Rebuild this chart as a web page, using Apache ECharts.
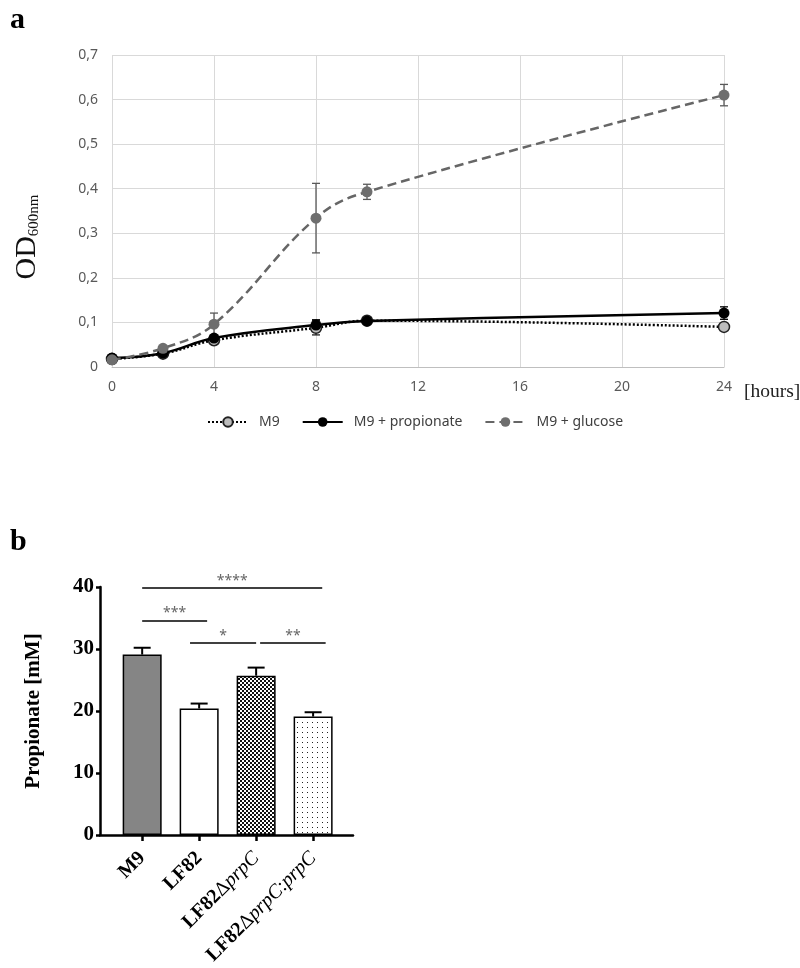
<!DOCTYPE html>
<html><head><meta charset="utf-8">
<script src="https://cdn.jsdelivr.net/npm/echarts@6/dist/echarts.min.js"></script>
<style>html,body{margin:0;padding:0;background:#fff}#c{width:800px;height:968px}</style>
</head><body><div id="c"></div>
<script>
// ---------- Panel a data ----------
const hours = [0, 2, 4, 8, 10, 24];
const m9 = [0.018, 0.030, 0.060, 0.088, 0.104, 0.090];
const m9Err = [0.004, 0.004, 0.008, 0.016, 0.005, 0.006];
const propionateOD = [0.020, 0.031, 0.065, 0.094, 0.103, 0.121];
const propionateODErr = [0.003, 0.004, 0.006, 0.012, 0.005, 0.014];
const glucoseOD = [0.016, 0.042, 0.096, 0.334, 0.393, 0.610];
const glucoseODErr = [0.003, 0.006, 0.025, 0.078, 0.017, 0.024];
const seriesNamesA = ['M9', 'M9 + propionate', 'M9 + glucose'];

// ---------- Panel b data ----------
const strains = ['M9', 'LF82', 'LF82ΔprpC', 'LF82ΔprpC:prpC'];
const propionateMM = [29.1, 20.4, 25.7, 19.1];
const propionateMMErr = [1.1, 0.8, 1.3, 0.7];
// significance brackets: [x start, x end, y level, label]
const sigBrackets = [
  [0, 3.16, 39.8, '****'],
  [0, 1.14, 34.6, '***'],
  [0.84, 2.0, 31.0, '*'],
  [2.07, 3.22, 31.0, '**']
];

// ---------- patterns ----------
function makeChecker() {
  const c = document.createElement('canvas'); c.width = 4; c.height = 4;
  const g = c.getContext('2d');
  g.fillStyle = '#fff'; g.fillRect(0, 0, 4, 4);
  g.fillStyle = '#111'; g.fillRect(0, 0, 2, 2); g.fillRect(2, 2, 2, 2);
  return c;
}
function makeDots() {
  const c = document.createElement('canvas'); c.width = 5; c.height = 5;
  const g = c.getContext('2d');
  g.fillStyle = '#fff'; g.fillRect(0, 0, 5, 5);
  g.fillStyle = '#222'; g.fillRect(2, 2, 1, 1);
  return c;
}
const barFills = ['#858585', '#ffffff', { image: makeChecker(), repeat: 'repeat' }, { image: makeDots(), repeat: 'repeat' }];

function errRender(capW, color, w, lowerCap) {
  return function (params, api) {
    const x = api.value(0), lo = api.value(1), hi = api.value(2);
    const a = api.coord([x, lo]), b = api.coord([x, hi]);
    const style = { stroke: color, lineWidth: w, fill: null };
    const ch = [
      { type: 'line', shape: { x1: a[0], y1: a[1], x2: b[0], y2: b[1] }, style },
      { type: 'line', shape: { x1: b[0] - capW / 2, y1: b[1], x2: b[0] + capW / 2, y2: b[1] }, style }
    ];
    if (lowerCap) ch.push({ type: 'line', shape: { x1: a[0] - capW / 2, y1: a[1], x2: a[0] + capW / 2, y2: a[1] }, style });
    return { type: 'group', children: ch };
  };
}
const pairs = (ys) => hours.map((h, i) => [h, ys[i]]);
const errPairs = (ys, es) => hours.map((h, i) => [h, ys[i] - es[i], ys[i] + es[i]]);

const sansFont = 'Noto Sans';
const serif = 'Liberation Serif';

function stylizeLabel(s) {
  const idx = s.indexOf('Δ');
  if (idx < 0) return '{b|' + s + '}';
  let out = '{b|' + s.slice(0, idx) + '}{d|Δ}';
  const rest = s.slice(idx + 1).split(':');
  out += rest.map(r => '{i|' + r + '}').join('{d|:}');
  return out;
}

const chart = echarts.init(document.getElementById('c'), null, { renderer: 'canvas' });
chart.setOption({
  animation: false,
  backgroundColor: '#fff',
  title: [
    { text: 'a', left: 5, top: 0, textStyle: { fontFamily: serif, fontWeight: 'bold', fontSize: 30, color: '#000' } },
    { text: 'b', left: 5, top: 522, textStyle: { fontFamily: serif, fontWeight: 'bold', fontSize: 30, color: '#000' } },
    { text: '[hours]', left: 739, top: 377, textStyle: { fontFamily: serif, fontWeight: 'normal', fontSize: 19.5, color: '#222' } }
  ],
  legend: {
    data: seriesNamesA,
    left: 202, top: 410,
    itemWidth: 40, itemHeight: 12, itemGap: 22,
    textStyle: { fontFamily: sansFont, fontSize: 14, color: '#404040', padding: [0, 0, 0, 6] }
  },
  grid: [
    { left: 112, top: 55, width: 612, height: 312 },
    { left: 100, top: 587, width: 253, height: 248 }
  ],
  xAxis: [
    {
      gridIndex: 0, type: 'value', min: 0, max: 24, interval: 4,
      axisLine: { show: true, lineStyle: { color: '#bfbfbf', width: 1 } },
      axisTick: { show: false },
      axisLabel: { color: '#595959', fontFamily: sansFont, fontSize: 14, margin: 13 },
      splitLine: { show: true, lineStyle: { color: '#d9d9d9', width: 1 } }
    },
    {
      gridIndex: 1, type: 'value', min: -0.74, max: 3.7,
      axisLine: { show: true, onZero: false, lineStyle: { color: '#000', width: 2.5 } },
      axisTick: { show: true, customValues: [0, 1, 2, 3], length: 6, lineStyle: { color: '#000', width: 2.5 } },
      axisLabel: {
        customValues: [0, 1, 2, 3], rotate: 45, margin: 20,
        formatter: (v) => stylizeLabel(strains[Math.round(v)] || ''),
        rich: {
          b: { fontFamily: serif, fontWeight: 'bold', fontSize: 20, color: '#000' },
          d: { fontFamily: serif, fontWeight: 'normal', fontSize: 20, color: '#000' },
          i: { fontFamily: serif, fontWeight: 'normal', fontStyle: 'italic', fontSize: 20, color: '#000' }
        }
      },
      splitLine: { show: false }
    }
  ],
  yAxis: [
    {
      gridIndex: 0, type: 'value', min: 0, max: 0.7, interval: 0.1,
      axisLine: { show: false }, axisTick: { show: false },
      axisLabel: { color: '#595959', fontFamily: sansFont, fontSize: 14, margin: 14,
        formatter: (v) => (Math.round(v * 10) / 10).toString().replace('.', ',') },
      splitLine: { show: true, lineStyle: { color: '#d9d9d9', width: 1 } },
      name: '{a|OD}{s|600nm}', nameLocation: 'middle', nameRotate: 90, nameGap: 70,
      nameTextStyle: {
        padding: [0, 52, 0, 0],
        rich: {
          a: { fontFamily: serif, fontSize: 30, color: '#111', verticalAlign: 'bottom', lineHeight: 30 },
          s: { fontFamily: serif, fontSize: 15, color: '#111', verticalAlign: 'bottom', lineHeight: 22 }
        }
      }
    },
    {
      gridIndex: 1, type: 'value', min: 0, max: 40, interval: 10,
      axisLine: { show: true, onZero: false, lineStyle: { color: '#000', width: 2.5 } },
      axisTick: { show: true, length: 4, lineStyle: { color: '#000', width: 2.5 } },
      axisLabel: { color: '#000', fontFamily: serif, fontWeight: 'bold', fontSize: 21, margin: 6 },
      splitLine: { show: false },
      name: 'Propionate [mM]', nameLocation: 'middle', nameRotate: 90, nameGap: 56,
      nameTextStyle: { fontFamily: serif, fontWeight: 'bold', fontSize: 21, color: '#000' }
    }
  ],
  series: [
    { type: 'custom', name: 'errM9', xAxisIndex: 0, yAxisIndex: 0, z: 3,
      renderItem: errRender(8, '#222', 1.3, true), data: errPairs(m9, m9Err), encode: { x: 0, y: [1, 2] } },
    { type: 'custom', name: 'errProp', xAxisIndex: 0, yAxisIndex: 0, z: 3,
      renderItem: errRender(8, '#000', 1.3, true), data: errPairs(propionateOD, propionateODErr), encode: { x: 0, y: [1, 2] } },
    { type: 'custom', name: 'errGlc', xAxisIndex: 0, yAxisIndex: 0, z: 3,
      renderItem: errRender(8, '#595959', 1.3, true), data: errPairs(glucoseOD, glucoseODErr), encode: { x: 0, y: [1, 2] } },
    {
      name: seriesNamesA[0], type: 'line', xAxisIndex: 0, yAxisIndex: 0, z: 4,
      data: pairs(m9), smooth: 0.4,
      lineStyle: { color: '#000', width: 2.5, type: [2, 2] },
      symbol: 'circle', symbolSize: 11,
      itemStyle: { color: '#bdbdbd', borderColor: '#222', borderWidth: 1.5 }
    },
    {
      name: seriesNamesA[1], type: 'line', xAxisIndex: 0, yAxisIndex: 0, z: 5,
      data: pairs(propionateOD), smooth: 0.4,
      lineStyle: { color: '#000', width: 2.5 },
      symbol: 'circle', symbolSize: 11,
      itemStyle: { color: '#000', borderColor: '#000', borderWidth: 0 }
    },
    {
      name: seriesNamesA[2], type: 'line', xAxisIndex: 0, yAxisIndex: 0, z: 6,
      data: pairs(glucoseOD), smooth: 0.4,
      lineStyle: { color: '#666666', width: 2.5, type: [9, 5] },
      symbol: 'circle', symbolSize: 11,
      itemStyle: { color: '#6e6e6e', borderWidth: 0 }
    },
    {
      type: 'bar', name: 'propionate', xAxisIndex: 1, yAxisIndex: 1, barWidth: 39, z: 2,
      data: strains.map((s, i) => ({ value: [i, propionateMM[i]], itemStyle: { color: barFills[i] } })),
      itemStyle: { borderColor: '#000', borderWidth: 1.5 },
      markLine: {
        silent: true, symbol: 'none', animation: false,
        lineStyle: { color: '#000', width: 1.5, type: 'solid' },
        label: { show: true, position: 'middle', formatter: (p) => p.name, color: '#666', fontSize: 14, fontFamily: sansFont, distance: 0 },
        data: sigBrackets.map(b => [{ name: b[3], coord: [b[0], b[2]] }, { coord: [b[1], b[2]] }])
      }
    },
    { type: 'custom', name: 'errB', xAxisIndex: 1, yAxisIndex: 1, z: 3,
      renderItem: errRender(17, '#000', 2, false),
      data: strains.map((s, i) => [i, propionateMM[i], propionateMM[i] + propionateMMErr[i]]), encode: { x: 0, y: [1, 2] } }
  ]
});
</script></body></html>
